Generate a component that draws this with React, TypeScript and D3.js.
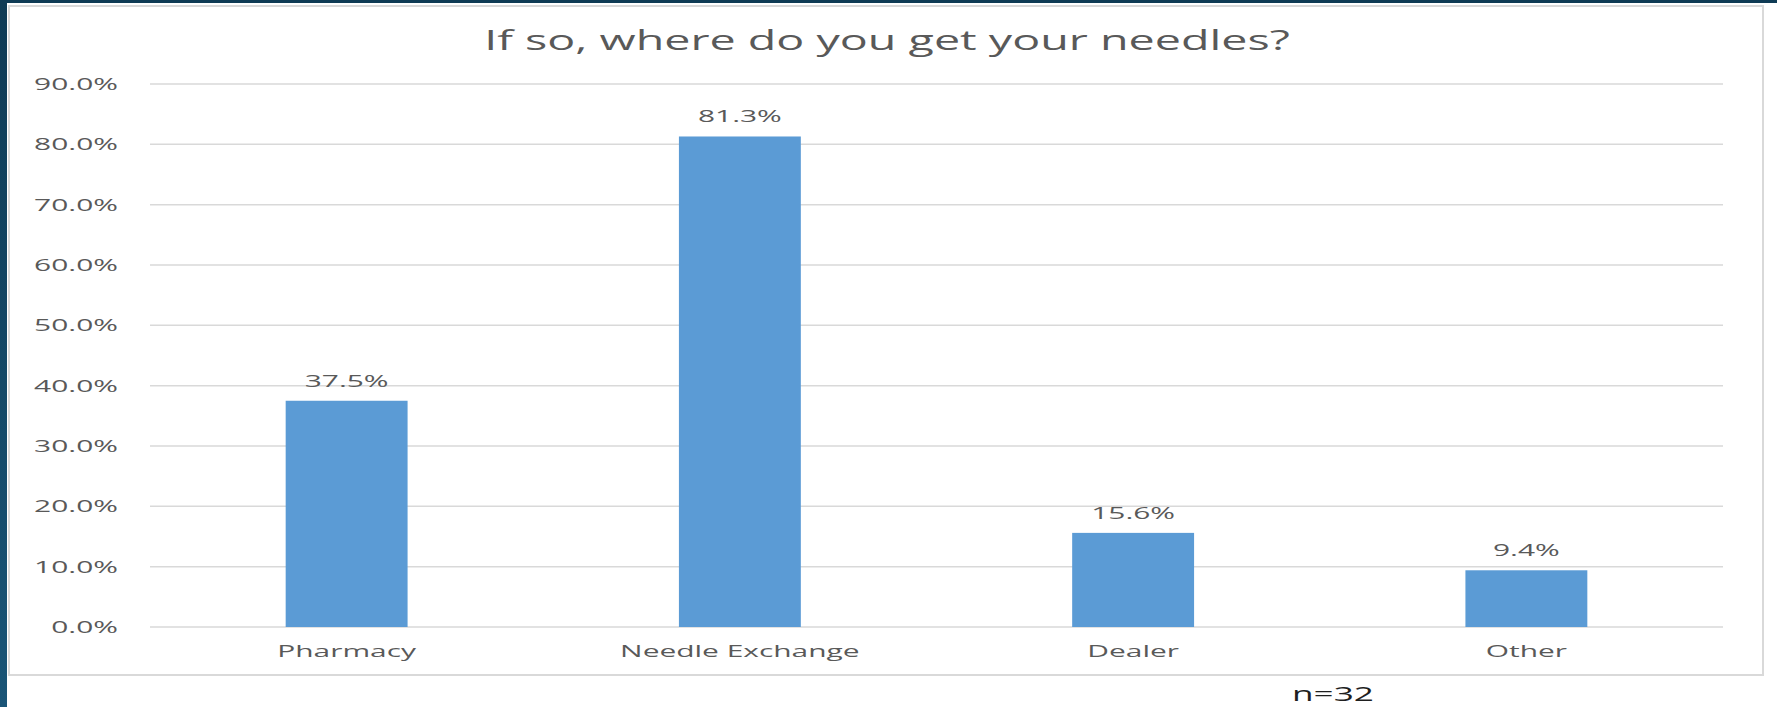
import React from "react";
import * as d3 from "d3";

const categories = ["Pharmacy", "Needle Exchange", "Dealer", "Other"];
const values = [0.375, 0.813, 0.156, 0.094];
const yTicks = [0, 0.1, 0.2, 0.3, 0.4, 0.5, 0.6, 0.7, 0.8, 0.9];
const title = "If so, where do you get your needles?";
const note = "n=32";

const W = 1777;
const H = 707;
const SX = 1.76;
const FONT = "'Open Sans', 'Liberation Sans', sans-serif";
const TXT = "#595959";

export default function App() {
  const x = d3.scaleBand<string>().domain(categories).range([150, 1723]).paddingInner(0.69).paddingOuter(0.345);
  const y = d3.scaleLinear().domain([0, 0.9]).range([627, 84]);
  const fmt = d3.format(".1%");

  const st = (tx: number, ty: number) => `translate(${tx},${ty}) scale(${SX},1)`;

  return (
    <div style={{ position: "absolute", left: 0, top: 0 }}>
      <svg width={W} height={H} style={{ display: "block" }}>
        <rect x={0} y={0} width={W} height={H} fill="#ffffff" />
        <defs>
          <linearGradient id="side" x1="0" y1="0" x2="0" y2="1">
            <stop offset="0" stopColor="#0f3b55" />
            <stop offset="1" stopColor="#1a5577" />
          </linearGradient>
        </defs>
        <rect x={0} y={0} width={W} height={3} fill="#0f3b55" />
        <rect x={0} y={0} width={7} height={H} fill="url(#side)" />
        <rect x={9} y={6} width={1754} height={669} fill="#ffffff" stroke="#d9d9d9" strokeWidth={2} />

        <text transform={st(887, 50)} textAnchor="middle" fontFamily={FONT} fontSize={26.5} fill={TXT}>
          {title}
        </text>

        {yTicks.map((t) => (
          <g key={t}>
            <line x1={150} x2={1723} y1={y(t)} y2={y(t)} stroke="#d9d9d9" strokeWidth={1.5} />
            <text transform={st(118, y(t) + 6)} textAnchor="end" fontFamily={FONT} fontSize={17} fill={TXT}>
              {fmt(t)}
            </text>
          </g>
        ))}

        {categories.map((c, i) => (
          <g key={c}>
            <rect x={x(c)} y={y(values[i])} width={x.bandwidth()} height={y(0) - y(values[i])} fill="#5b9bd5" />
            <text
              transform={st((x(c) as number) + x.bandwidth() / 2, y(values[i]) - 14)}
              textAnchor="middle"
              fontFamily={FONT}
              fontSize={17}
              fill={TXT}
            >
              {fmt(values[i])}
            </text>
            <text
              transform={st((x(c) as number) + x.bandwidth() / 2, 657)}
              textAnchor="middle"
              fontFamily={FONT}
              fontSize={17}
              fill={TXT}
            >
              {c}
            </text>
          </g>
        ))}

        <text transform={st(1333, 701)} textAnchor="middle" fontFamily={FONT} fontSize={20} fill="#1f1f1f">
          {note}
        </text>
      </svg>
    </div>
  );
}
